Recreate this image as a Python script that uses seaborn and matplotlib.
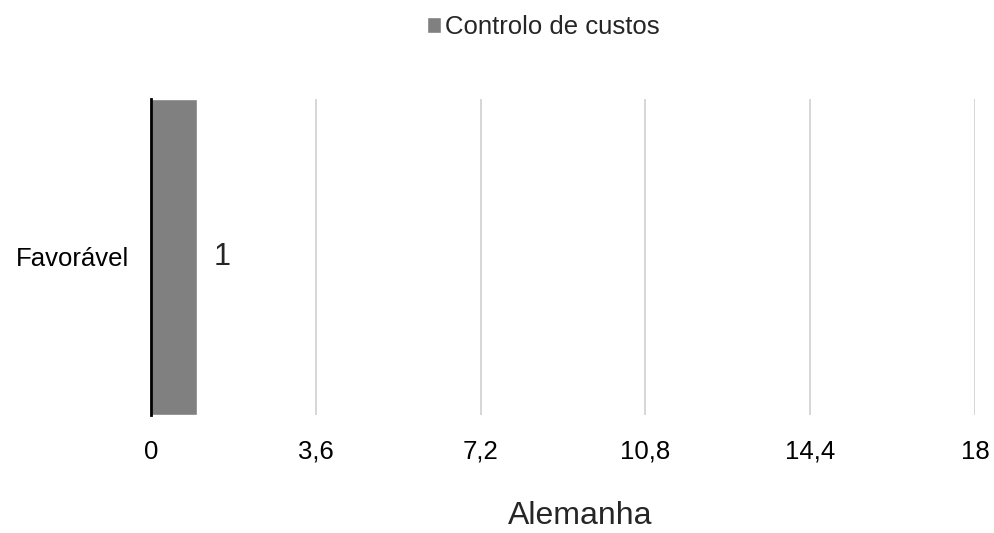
import pandas as pd
import matplotlib.pyplot as plt
import seaborn as sns

# dados do gráfico
categorias = ['Favorável']
valores = [1]
serie = ['Controlo de custos']
ticks_x = [0, 3.6, 7.2, 10.8, 14.4, 18]
rotulos_x = ['0', '3,6', '7,2', '10,8', '14,4', '18']

df = pd.DataFrame({'categoria': categorias, 'valor': valores, 'serie': serie * len(categorias)})

sns.set_style('white')
plt.rcParams['font.family'] = ['Liberation Sans', 'DejaVu Sans']

fig = plt.figure(figsize=(9.94, 5.33), dpi=100)
ax = fig.add_axes([151 / 994, 1 - 415 / 533, 824 / 994, 316 / 533])

sns.barplot(data=df, x='valor', y='categoria', hue='serie', orient='h',
            palette=['#808080'], width=1.0, ax=ax, zorder=2)

ax.set_xlim(0, 18)
ax.set_ylim(0.5, -0.5)
ax.set_xticks(ticks_x)
ax.set_xticklabels(rotulos_x)
ax.xaxis.grid(True, color='#d0d0d0', linewidth=1.2, zorder=0)
ax.set_axisbelow(True)
for s in ['top', 'right', 'bottom']:
    ax.spines[s].set_visible(False)
ax.spines['left'].set_color('black')
ax.spines['left'].set_linewidth(2)
ax.spines['left'].set_zorder(3)
ax.tick_params(axis='x', length=0, pad=18, labelsize=18.5, colors='black')
ax.tick_params(axis='y', length=0, pad=16, labelsize=18.5, colors='black')
ax.set_xlabel('')
ax.set_ylabel('')

for c in ax.containers:
    ax.bar_label(c, labels=[str(v) for v in valores], padding=12, fontsize=22)

ax.get_legend().remove()
h, l = ax.get_legend_handles_labels()
fig.legend(h, l, loc='center', bbox_to_anchor=(543 / 994, 1 - 27 / 533), frameon=False,
           fontsize=18.5, handlelength=0.55, handleheight=0.55, handletextpad=0.15,
           borderpad=0)

fig.text(580 / 994, 1 - 516 / 533, 'Alemanha', ha='center', va='center', fontsize=23)

plt.savefig('out.png', dpi=100)
